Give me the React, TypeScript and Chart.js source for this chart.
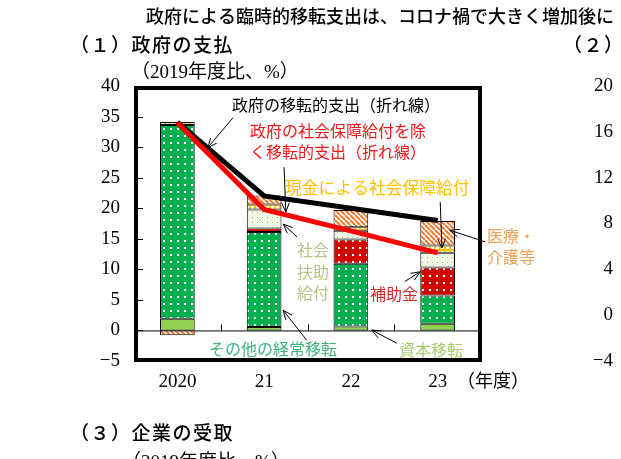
import { useEffect, useRef } from "react";
import { Chart, registerables } from "chart.js";

Chart.register(...registerables);

// fiscal years (2019 = base)
const years = ["2020", "21", "22", "23"];
// stacked components, % of FY2019 level
const capitalTransfers = [1.9, 0.55, 0.65, 1.1];
const otherCurrentTransfers = [31.7, 15.55, 10.25, 4.6];
const subsidies = [null, 0.6, 4.0, 4.6];
const socialAssistance = [null, 3.1, 1.4, 2.4];
const cashBenefits = [0.5, 0.8, 0.6, 1.2];
const medicalCare = [-0.8, 1.5, 2.8, 4.0];
// lines
const transferTotal = [34.1, 22.0, 20.0, 18.0];
const transferExSocial = [34.0, 19.8, 16.3, 12.7];
// tick labels
const leftTicks = [40, 35, 30, 25, 20, 15, 10, 5, 0, -5];
const rightTicks = [20, 16, 12, 8, 4, 0, -4];

const JP = "'Noto Sans CJK JP'";
const SERIF = "'Liberation Serif', 'Noto Sans CJK JP'";

// annotation labels (pixel layout)
const notes = [
  { t: "政府の移転的支出（折れ線）", x: 232, y: 105, c: "#000000" },
  { t: "政府の社会保障給付を除", x: 250, y: 131, c: "#F01818" },
  { t: "く移転的支出（折れ線）", x: 250, y: 152, c: "#F01818" },
  { t: "現金による社会保障給付", x: 285, y: 188, c: "#FFC000", s: 16.8 },
  { t: "社会", x: 297, y: 250, c: "#BCC188" },
  { t: "扶助", x: 297, y: 272, c: "#BCC188" },
  { t: "給付", x: 297, y: 293, c: "#BCC188" },
  { t: "医療・", x: 487, y: 236, c: "#F0A050" },
  { t: "介護等", x: 487, y: 257, c: "#F0A050" },
  { t: "補助金", x: 370, y: 294, c: "#D02A2A" },
  { t: "その他の経常移転", x: 209, y: 349, c: "#3DB37A" },
  { t: "資本移転", x: 399, y: 350, c: "#A8CC70" },
];

// arrows in [category position, value] space
const arrows = [
  { from: [0.64, 34.8], to: [0.35, 29.9] },
  { from: [1.23, 26.7], to: [1.25, 19.4] },
  { from: [3.03, 21.0], to: [3.05, 13.5] },
  { from: [1.38, 15.3], to: [1.22, 17.4] },
  { from: [3.55, 14.5], to: [3.14, 16.4] },
  { from: [2.62, 8.0], to: [2.8, 9.6] },
  { from: [1.49, -1.6], to: [1.22, 3.3] },
  { from: [2.53, -2.1], to: [2.24, 0.07] },
];

const makePattern = (size: number, draw: (g: CanvasRenderingContext2D, s: number) => void) => {
  const c = document.createElement("canvas");
  c.width = size;
  c.height = size;
  const g = c.getContext("2d")!;
  draw(g, size);
  return g.createPattern(c, "repeat")!;
};

const dotted = (bg: string, fg: string, size: number, dot: number) =>
  makePattern(size, (g, s) => {
    g.fillStyle = bg;
    g.fillRect(0, 0, s, s);
    g.fillStyle = fg;
    g.fillRect(2, 2, dot, dot);
  });

const panelPlugin = {
  id: "panel",
  beforeDatasetsDraw(chart) {
    const { ctx, chartArea, scales } = chart;
    const y0 = scales.y.getPixelForValue(0);
    ctx.save();
    ctx.strokeStyle = "#000";
    ctx.lineWidth = 1;
    ctx.beginPath();
    ctx.moveTo(chartArea.left, y0 + 0.5);
    ctx.lineTo(chartArea.right, y0 + 0.5);
    // category boundary ticks on the zero line
    for (let i = 0; i < years.length - 1; i++) {
      const xb = Math.round((scales.x.getPixelForValue(i) + scales.x.getPixelForValue(i + 1)) / 2) + 0.5;
      ctx.moveTo(xb, y0);
      ctx.lineTo(xb, y0 - 6);
    }
    // value ticks on the left frame
    for (const v of leftTicks) {
      const yy = Math.round(scales.y.getPixelForValue(v)) + 0.5;
      ctx.moveTo(chartArea.left + 2, yy);
      ctx.lineTo(chartArea.left + 9, yy);
    }
    ctx.stroke();
    ctx.restore();
  },
  afterDraw(chart) {
    const { ctx, chartArea, scales } = chart;
    const xs = scales.x;
    const ys = scales.y;
    const step = xs.getPixelForValue(1) - xs.getPixelForValue(0);
    const pt = (p: number[]) => [xs.getPixelForValue(0) + p[0] * step, ys.getPixelForValue(p[1])];
    ctx.save();

    // frame
    ctx.strokeStyle = "#000";
    ctx.lineWidth = 4;
    ctx.strokeRect(chartArea.left + 2, chartArea.top + 2, chartArea.width - 3, chartArea.height - 3);

    // tick labels
    ctx.fillStyle = "#000";
    ctx.font = "19px 'Liberation Serif'";
    ctx.textBaseline = "middle";
    ctx.textAlign = "right";
    for (const v of leftTicks) {
      ctx.fillText(v < 0 ? "−" + Math.abs(v) : String(v), 120, ys.getPixelForValue(v));
    }
    const rTop = chartArea.top;
    const rBot = chartArea.bottom;
    for (const v of rightTicks) {
      const yy = rTop + ((rightTicks[0] - v) / (rightTicks[0] - rightTicks[rightTicks.length - 1])) * (rBot - rTop);
      ctx.fillText(v < 0 ? "−" + Math.abs(v) : String(v), 613, yy);
    }
    ctx.textAlign = "center";
    years.forEach((yr, i) => ctx.fillText(yr, xs.getPixelForValue(i), 382));
    ctx.textAlign = "left";
    ctx.font = `18px ${SERIF}`;
    ctx.fillText("（年度）", 457, 382);
    ctx.font = `19px ${SERIF}`;
    ctx.fillText("（2019年度比、%）", 131, 73);
    ctx.fillText("（2019年度比、%）", 122, 463);

    // headings
    ctx.font = `500 18px ${JP}`;
    ctx.fillText("政府による臨時的移転支出は、コロナ禍で大きく増加後に", 146, 16);
    ctx.font = `500 19px ${JP}`;
    (ctx as any).letterSpacing = "1.5px";
    ctx.fillText("（１）政府の支払", 70, 45);
    ctx.fillText("（２）", 563, 45);
    ctx.fillText("（３）企業の受取", 70, 433);
    (ctx as any).letterSpacing = "0px";

    // annotation texts
    for (const n of notes) {
      ctx.font = `${n.s || 16}px ${JP}`;
      ctx.fillStyle = n.c;
      ctx.fillText(n.t, n.x, n.y);
    }

    // arrows
    ctx.strokeStyle = "#000";
    ctx.lineWidth = 1;
    for (const a of arrows) {
      const [x1, y1] = pt(a.from);
      const [x2, y2] = pt(a.to);
      const ang = Math.atan2(y2 - y1, x2 - x1);
      const len = 10;
      ctx.beginPath();
      ctx.moveTo(x1, y1);
      ctx.lineTo(x2, y2);
      ctx.moveTo(x2 - len * Math.cos(ang - 0.4), y2 - len * Math.sin(ang - 0.4));
      ctx.lineTo(x2, y2);
      ctx.lineTo(x2 - len * Math.cos(ang + 0.4), y2 - len * Math.sin(ang + 0.4));
      ctx.stroke();
    }
    ctx.restore();
  },
};

const GovTransfersChart = () => {
  const chartRef = useRef<HTMLCanvasElement | null>(null);

  useEffect(() => {
    const greenDots = dotted("#00B050", "#FFFFFF", 7, 2);
    const redDots = dotted("#D40000", "#FFFFFF", 7, 2);
    const paleDots = dotted("#F1F5E4", "#9DBE6C", 5, 1);
    const yellowGrid = makePattern(5, (g, s) => {
      g.fillStyle = "#FFC000";
      g.fillRect(0, 0, s, s);
      g.fillStyle = "#FFFFFF";
      g.fillRect(1, 1, 3, 3);
    });
    const orangeHatch = makePattern(5, (g, s) => {
      g.fillStyle = "#FFFFFF";
      g.fillRect(0, 0, s, s);
      g.strokeStyle = "#ED7D31";
      g.lineWidth = 2;
      for (const o of [-s, 0, s]) {
        g.beginPath();
        g.moveTo(o, 0);
        g.lineTo(o + s, s);
        g.stroke();
      }
    });

    const bar = (label: string, data: (number | null)[], fill: any) => ({
      type: "bar" as const,
      label,
      data,
      backgroundColor: fill,
      borderColor: "#000000",
      borderWidth: 1,
      borderSkipped: false,
      order: 2,
    });

    const myChart = new Chart(chartRef.current!.getContext("2d")!, {
      type: "bar",
      data: {
        labels: years,
        datasets: [
          {
            type: "line",
            label: "政府の社会保障給付を除く移転的支出",
            data: transferExSocial,
            borderColor: "#FF0000",
            borderWidth: 5,
            pointRadius: 0,
            stack: "ex",
            order: 0,
          },
          {
            type: "line",
            label: "政府の移転的支出",
            data: transferTotal,
            borderColor: "#000000",
            borderWidth: 5,
            pointRadius: 0,
            stack: "total",
            order: 1,
          },
          bar("資本移転", capitalTransfers, "#92D050"),
          bar("その他の経常移転", otherCurrentTransfers, greenDots),
          bar("補助金", subsidies, redDots),
          bar("社会扶助給付", socialAssistance, paleDots),
          bar("現金による社会保障給付", cashBenefits, yellowGrid),
          bar("医療・介護等", medicalCare, orangeHatch),
        ] as any,
      },
      options: {
        animation: false,
        responsive: true,
        maintainAspectRatio: false,
        layout: { padding: { left: 134, right: 140, top: 86, bottom: 98 } },
        datasets: { bar: { categoryPercentage: 1, barPercentage: 0.4 } },
        scales: {
          x: { display: false, stacked: true },
          y: { display: false, stacked: true, min: -5, max: 40 },
        },
        plugins: { legend: { display: false }, tooltip: { enabled: false } },
      },
      plugins: [panelPlugin],
    });

    return () => {
      myChart.destroy();
    };
  }, []);

  return (
    <div style={{ position: "fixed", left: 0, top: 0, width: 621, height: 459, background: "#fff" }}>
      <canvas ref={chartRef} style={{ width: "100%", height: "100%" }} />
    </div>
  );
};

export default function App() {
  return <GovTransfersChart />;
}
